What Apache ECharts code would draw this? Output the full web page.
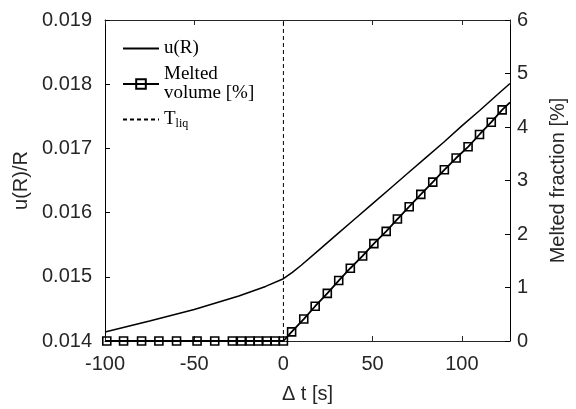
<!DOCTYPE html>
<html>
<head>
<meta charset="utf-8">
<script src="https://cdn.jsdelivr.net/npm/echarts@6/dist/echarts.min.js"></script>
<style>
html,body{margin:0;padding:0;background:#fff;}
#chart{width:576px;height:409px;}
</style>
</head>
<body>
<div id="chart"></div>
<script>
// ---- data ----
const xTicks = [-100, -50, 0, 50, 100];
const leftTicks = [0.014, 0.015, 0.016, 0.017, 0.018, 0.019];
const rightTicks = [0, 1, 2, 3, 4, 5, 6];

// u(R)/R curve
const uT = [-100, -75, -50, -25, -10, 0, 5, 10, 20, 30, 40, 50, 60, 70, 80, 90, 100, 110, 120, 127];
const uV = [0.01414, 0.01431, 0.01449, 0.01470, 0.01485, 0.01497, 0.01507, 0.01518, 0.01542, 0.01566, 0.01590,
            0.01614, 0.01638, 0.01662, 0.01686, 0.01710, 0.01735, 0.01759, 0.01784, 0.01801];

// Melted volume [%] markers
const meltT = [-99, -89.6, -79.5, -69.8, -59.9, -48.4, -38.5, -28.6, -23.6, -18.7, -14.1, -9.3, -4.6, 0,
               4.6, 11.4, 17.8, 24.6, 31.0, 37.5, 44.4, 50.7, 57.6, 63.9, 70.5, 77.0, 83.7, 90.2, 96.8,
               103.5, 109.9, 116.5, 122.6];
const meltV = [0, 0, 0, 0, 0, 0, 0, 0, 0, 0, 0, 0, 0, 0,
               0.17, 0.41, 0.65, 0.89, 1.13, 1.36, 1.59, 1.82, 2.05, 2.28, 2.51, 2.74, 2.97, 3.20, 3.42,
               3.63, 3.86, 4.09, 4.32];
// line ends (no marker)
const meltStart = [-100, 0];
const meltKnee = [0, 0];
const meltEnd = [127, 4.46];

// T_liq
const tLiqT = 0;

// ---- build ----
const uData = uT.map((t, i) => [t, uV[i]]);
const meltData = [{ value: meltStart, symbol: 'none' }, { value: meltKnee, symbol: 'none' }];
meltT.forEach((t, i) => meltData.push({ value: [t, meltV[i]] }));
meltData.push({ value: meltEnd, symbol: 'none' });
meltData.sort((a, b) => a.value[0] - b.value[0]);

const FONT = 'Liberation Sans';
const SERIF = 'Liberation Serif';
const AX = '#262626';
const CLEAR = 'rgba(0,0,0,0)';

const chart = echarts.init(document.getElementById('chart'), null, { renderer: 'canvas' });

const legendBase = {
  orient: 'vertical',
  left: 117,
  itemWidth: 36,
  itemHeight: 12,
  itemGap: 5,
  selectedMode: false,
  textStyle: { fontFamily: SERIF, fontSize: 19, color: '#000' }
};

chart.setOption({
  animation: false,
  backgroundColor: '#fff',
  grid: { left: 105, right: 58, top: 20, bottom: 64, containLabel: false },
  legend: [
    Object.assign({}, legendBase, { top: 34, data: [{ name: 'u(R)', itemStyle: { color: CLEAR, borderColor: CLEAR } }] }),
    Object.assign({}, legendBase, {
      top: 60, data: ['Melted volume [%]'],
      formatter: () => 'Melted\nvolume [%]',
      textStyle: { fontFamily: SERIF, fontSize: 19, color: '#000', lineHeight: 19 }
    }),
    Object.assign({}, legendBase, {
      top: 105, data: [{ name: 'T_liq', itemStyle: { color: CLEAR, borderColor: CLEAR } }],
      formatter: () => '{t|T}{s|liq}',
      textStyle: {
        fontFamily: SERIF, fontSize: 19, color: '#000',
        rich: {
          t: { fontFamily: SERIF, fontSize: 19, color: '#000' },
          s: { fontFamily: SERIF, fontSize: 12, color: '#000', padding: [8, 0, 0, 0] }
        }
      }
    })
  ],
  xAxis: [
    {
      type: 'value', min: -100, max: 127, interval: 50,
      name: 'Δ t [s]', nameLocation: 'middle', nameGap: 43,
      nameTextStyle: { fontFamily: FONT, fontSize: 20, color: AX },
      axisLine: { onZero: false, lineStyle: { color: AX, width: 1 } },
      axisTick: { inside: true, length: 5, lineStyle: { color: AX } },
      axisLabel: { fontFamily: FONT, fontSize: 20, color: AX, margin: 13, showMaxLabel: false,
                   formatter: v => xTicks.includes(v) ? String(v) : '' },
      splitLine: { show: false }
    },
    {
      type: 'value', min: -100, max: 127, interval: 50, position: 'top',
      axisLine: { onZero: false, lineStyle: { color: AX, width: 1 } },
      axisTick: { inside: true, length: 5, lineStyle: { color: AX } },
      axisLabel: { show: false },
      splitLine: { show: false }
    }
  ],
  yAxis: [
    {
      type: 'value', min: 0.014, max: 0.019, interval: 0.001, position: 'left',
      name: 'u(R)/R', nameLocation: 'middle', nameGap: 68, nameRotate: 90,
      nameTextStyle: { fontFamily: FONT, fontSize: 20, color: AX },
      axisLine: { show: true, onZero: false, lineStyle: { color: '#000', width: 1 } },
      axisTick: { show: true, inside: true, length: 5, lineStyle: { color: '#000' } },
      axisLabel: { fontFamily: FONT, fontSize: 20, color: AX, margin: 13,
                   formatter: v => v.toFixed(3) },
      splitLine: { show: false }
    },
    {
      type: 'value', min: 0, max: 6, interval: 1, position: 'right',
      name: 'Melted fraction [%]', nameLocation: 'middle', nameGap: 38, nameRotate: 90,
      nameTextStyle: { fontFamily: FONT, fontSize: 20, color: AX },
      axisLine: { show: true, onZero: false, lineStyle: { color: '#000', width: 1 } },
      axisTick: { show: true, inside: true, length: 5, lineStyle: { color: '#000' } },
      axisLabel: { fontFamily: FONT, fontSize: 20, color: AX, margin: 7,
                   formatter: v => rightTicks.includes(v) ? String(v) : '' },
      splitLine: { show: false }
    }
  ],
  series: [
    {
      name: 'u(R)', type: 'line', xAxisIndex: 0, yAxisIndex: 0,
      data: uData, symbol: 'none', smooth: false,
      lineStyle: { color: '#000', width: 1.5 }, itemStyle: { color: '#000' },
      z: 3
    },
    {
      name: 'Melted volume [%]', type: 'line', xAxisIndex: 0, yAxisIndex: 1,
      data: meltData, symbol: 'rect', symbolSize: 8,
      lineStyle: { color: '#000', width: 1.8 },
      itemStyle: { color: CLEAR, borderColor: '#000', borderWidth: 1.6 },
      clip: false, z: 4
    },
    {
      name: 'T_liq', type: 'line', xAxisIndex: 0, yAxisIndex: 0,
      data: [[tLiqT, 0.014], [tLiqT, 0.019]], symbol: 'none',
      lineStyle: { color: '#000', width: 1, type: [4, 3] }, itemStyle: { color: '#000' },
      z: 2
    }
  ]
});
</script>
</body>
</html>
